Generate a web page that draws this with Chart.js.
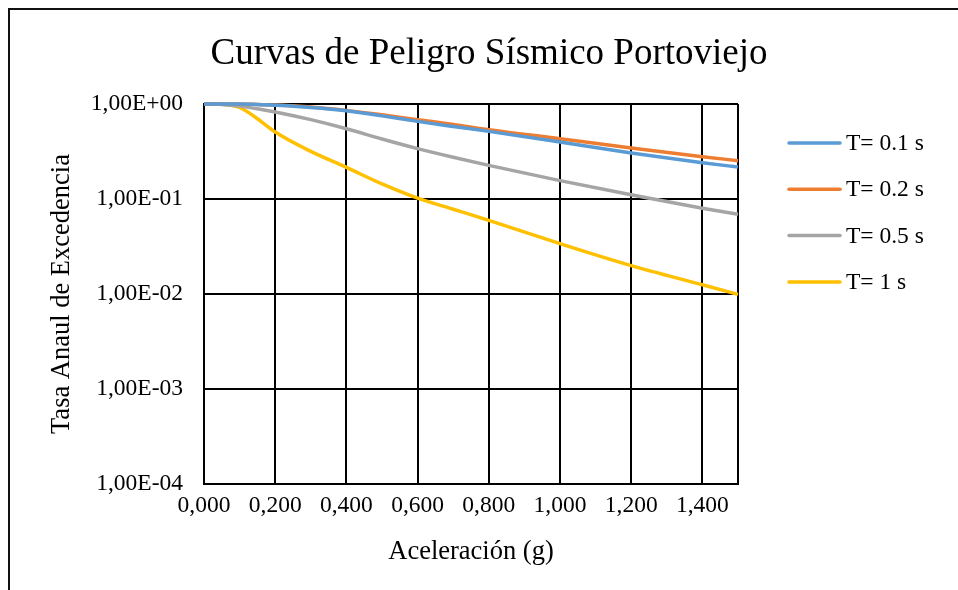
<!DOCTYPE html>
<html>
<head>
<meta charset="utf-8">
<script src="https://cdn.jsdelivr.net/npm/chart.js@4.4.0/dist/chart.umd.min.js"></script>
<style>
  html, body { margin: 0; padding: 0; background: #fff; overflow: hidden; }
  canvas { display: block; }
</style>
</head>
<body>
<canvas id="hazardChart" width="958" height="590"></canvas>
<script>
// aceleracion (g) and tasa anual de excedencia
const accel = [0, 0.05, 0.1, 0.15, 0.2, 0.3, 0.4, 0.5, 0.6, 0.7, 0.8, 1.0, 1.2, 1.4, 1.5];
const tasaT01 = [1, 1, 1, 0.99, 0.97, 0.92, 0.85, 0.75, 0.656, 0.58, 0.515, 0.398, 0.305, 0.241, 0.217];
const tasaT02 = [1, 1, 1, 0.99, 0.975, 0.93, 0.857, 0.77, 0.684, 0.61, 0.536, 0.431, 0.344, 0.279, 0.253];
const tasaT05 = [1, 0.99, 0.95, 0.89, 0.824, 0.684, 0.549, 0.428, 0.339, 0.275, 0.226, 0.156, 0.111, 0.080, 0.069];
const tasaT1 = [1, 0.995, 0.92, 0.70, 0.507, 0.317, 0.215, 0.144, 0.102, 0.078, 0.0596, 0.0339, 0.0199, 0.0125, 0.0099];

const seriesNames = ["T= 0.1 s", "T= 0.2 s", "T= 0.5 s", "T= 1 s"];
const xTicks = [0, 0.2, 0.4, 0.6, 0.8, 1.0, 1.2, 1.4, 1.5];
const yTicks = [1e-4, 1e-3, 1e-2, 1e-1, 1];

const serif = "'Times New Roman', 'Liberation Serif', serif";

function pts(ys) {
  return accel.map((x, i) => ({ x: x, y: ys[i] }));
}

function sci(v) {
  let e = Math.round(Math.log10(v));
  let s = e < 0 ? "-" : "+";
  return "1,00E" + s + String(Math.abs(e)).padStart(2, "0");
}

// frame, title and legend drawn by hand so the plot area lands where Excel put it
const decor = {
  id: "decor",
  beforeDraw(chart) {
    let ctx = chart.ctx;
    ctx.save();
    ctx.strokeStyle = "#111";
    ctx.lineWidth = 2;
    ctx.strokeRect(9, 9, 2000, 2000);
    ctx.restore();
  },
  afterDraw(chart) {
    let ctx = chart.ctx;
    ctx.save();
    ctx.fillStyle = "#000";
    ctx.font = "37px " + serif;
    ctx.textAlign = "center";
    ctx.textBaseline = "middle";
    ctx.fillText("Curvas de Peligro Sísmico Portoviejo", 489, 54);

    ctx.font = "23.5px " + serif;
    ctx.textAlign = "left";
    chart.data.datasets.forEach((ds, i) => {
      let y = 143 + i * 46.3;
      ctx.strokeStyle = ds.borderColor;
      ctx.lineWidth = 3.5;
      ctx.lineCap = "round";
      ctx.beginPath();
      ctx.moveTo(789, y);
      ctx.lineTo(840, y);
      ctx.stroke();
      ctx.fillText(ds.label, 846, y + 1);
    });
    ctx.restore();
  }
};

let ctx = document.getElementById("hazardChart").getContext("2d");
let hazardChart = new Chart(ctx, {
  type: "line",
  data: {
    datasets: [
      { label: seriesNames[0], data: pts(tasaT01), borderColor: "#5B9BD5" },
      { label: seriesNames[1], data: pts(tasaT02), borderColor: "#ED7D31" },
      { label: seriesNames[2], data: pts(tasaT05), borderColor: "#A5A5A5" },
      { label: seriesNames[3], data: pts(tasaT1), borderColor: "#FFC000" }
    ]
  },
  options: {
    responsive: false,
    animation: false,
    devicePixelRatio: 1,
    layout: { padding: { left: 20, right: 220, top: 104, bottom: 0 } },
    elements: {
      point: { radius: 0 },
      line: { borderWidth: 3.5, cubicInterpolationMode: "monotone", fill: false }
    },
    datasets: { line: { clip: false } },
    plugins: {
      legend: { display: false },
      title: { display: false },
      tooltip: { enabled: false }
    },
    scales: {
      x: {
        type: "linear",
        min: 0,
        max: 1.5,
        afterBuildTicks: s => { s.ticks = xTicks.map(v => ({ value: v })); },
        afterFit: s => { s.height = 106; },
        grid: { color: "#000", lineWidth: 2, drawTicks: false },
        border: { color: "#000", width: 2 },
        ticks: {
          autoSkip: false,
          maxRotation: 0,
          padding: 8,
          color: "#000",
          font: { family: serif, size: 23.5 },
          callback: v => (v > 1.45 ? "" : v.toFixed(3).replace(".", ","))
        },
        title: {
          display: true,
          text: "Aceleración (g)",
          color: "#000",
          font: { family: serif, size: 26.5 },
          padding: { top: 0, bottom: 22 }
        }
      },
      y: {
        type: "logarithmic",
        min: 1e-4,
        max: 1,
        afterBuildTicks: s => { s.ticks = yTicks.map(v => ({ value: v })); },
        afterFit: s => { s.width = 184; },
        grid: { color: "#000", lineWidth: 2, drawTicks: false },
        border: { color: "#000", width: 2 },
        ticks: {
          padding: 21,
          color: "#000",
          font: { family: serif, size: 23.5 },
          callback: v => sci(v)
        },
        title: {
          display: true,
          text: "Tasa Anaul de Excedencia",
          color: "#000",
          font: { family: serif, size: 26.5 },
          padding: { top: 26, bottom: 0 }
        }
      }
    }
  },
  plugins: [decor]
});
</script>
</body>
</html>
